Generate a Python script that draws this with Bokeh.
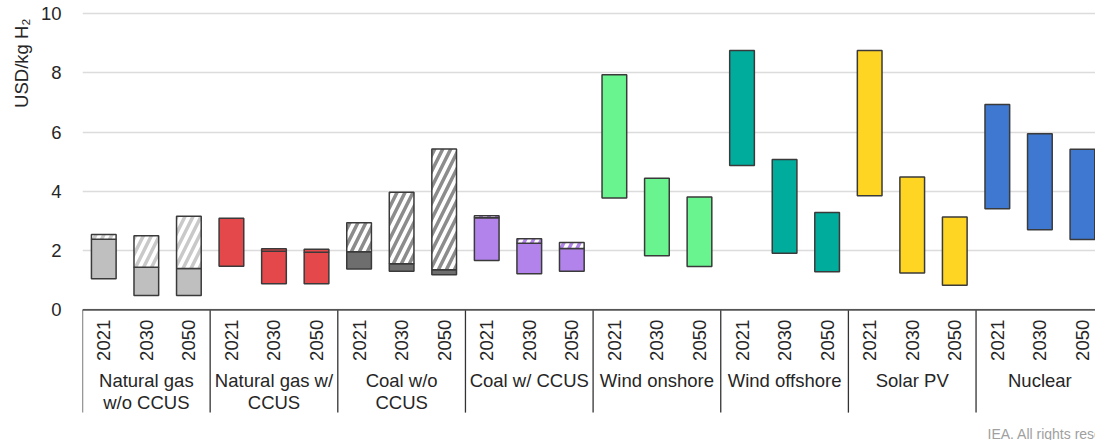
import math
from bokeh.plotting import figure
from bokeh.models import ColumnDataSource, Range1d, FixedTicker, Span, Title
from bokeh.embed import file_html
from bokeh.resources import INLINE
from bokeh.core.properties import value

# ---------------- data ----------------
groups = ["Natural gas\nw/o CCUS", "Natural gas w/\nCCUS", "Coal w/o\nCCUS", "Coal w/ CCUS",
          "Wind onshore", "Wind offshore", "Solar PV", "Nuclear"]
years = ["2021", "2030", "2050"]

# USD/kg H2 : bottom of range, top of base (solid) part, top incl. CO2 part
cost_low = [1.05, 0.48, 0.48, 1.47, 0.88, 0.88, 1.38, 1.30, 1.18, 1.66, 1.22, 1.30,
            3.77, 1.82, 1.46, 4.87, 1.91, 1.28, 3.85, 1.24, 0.83, 3.41, 2.70, 2.37]
cost_base_top = [2.38, 1.44, 1.39, 3.09, 1.98, 1.94, 1.96, 1.55, 1.35, 3.11, 2.25, 2.07,
                 7.93, 4.44, 3.81, 8.75, 5.07, 3.28, 8.75, 4.48, 3.13, 6.93, 5.94, 5.42]
cost_total_top = [2.54, 2.50, 3.16, 3.09, 2.06, 2.04, 2.94, 3.97, 5.43, 3.17, 2.40, 2.27,
                  7.93, 4.44, 3.81, 8.75, 5.07, 3.28, 8.75, 4.48, 3.13, 6.93, 5.94, 5.42]

y_ticks = [0, 2, 4, 6, 8, 10]
y_title = "USD/kg H\u2082"
source_note = "IEA. All rights reserved."

# ---------------- styles ----------------
base_colors = ["#BFBFBF", "#E5484A", "#6E6E6E", "#B283EB", "#69F48F", "#00AD9C", "#FFD524", "#3E78D1"]
top_fill = ["#FFFFFF", "#E5484A", "#FFFFFF", "#FFFFFF", "#FFFFFF", "#FFFFFF", "#FFFFFF", "#FFFFFF"]
top_hatch = ["/", " ", "/", "/", " ", " ", " ", " "]
top_hatch_color = ["#C9C9C9", "#E5484A", "#8C8C8C", "#B283EB", "#000000", "#000000", "#000000", "#000000"]

FONT = "Liberation Sans"
TXT = "#262626"

n_years = len(years)
xs, g_idx, year_lbl = [], [], []
for g in range(len(groups)):
    for k, yr in enumerate(years):
        xs.append(g * n_years + k)
        g_idx.append(g)
        year_lbl.append(yr)

base_src = ColumnDataSource(dict(
    x=xs, bottom=cost_low, top=cost_base_top,
    color=[base_colors[g] for g in g_idx]))

tx, tb, tt, tf, th, thc = [], [], [], [], [], []
for i, g in enumerate(g_idx):
    if cost_total_top[i] > cost_base_top[i]:
        tx.append(xs[i]); tb.append(cost_base_top[i]); tt.append(cost_total_top[i])
        tf.append(top_fill[g]); th.append(top_hatch[g]); thc.append(top_hatch_color[g])
top_src = ColumnDataSource(dict(x=tx, bottom=tb, top=tt, fill=tf, hatch=th, hcolor=thc))

# ---------------- figure ----------------
W, H = 1095, 440
left_border = 82
px_per_unit = 29.63
zero_px = 309.3
y_end = zero_px / px_per_unit
y_start = y_end - H / px_per_unit
slot = 42.55
x_start = -0.5
x_end = x_start + (W - left_border) / slot

p = figure(width=W, height=H, output_backend="svg", toolbar_location=None,
           x_range=Range1d(x_start, x_end), y_range=Range1d(y_start, y_end),
           min_border_left=left_border, min_border_right=0, min_border_top=0,
           min_border_bottom=0, x_axis_location=None)
p.outline_line_color = None
p.background_fill_color = "white"
p.border_fill_color = "white"

p.yaxis.ticker = FixedTicker(ticks=y_ticks)
p.yaxis.axis_line_color = None
p.yaxis.major_tick_line_color = None
p.yaxis.minor_tick_line_color = None
p.yaxis.major_label_text_font = FONT
p.yaxis.major_label_text_font_size = "18.5px"
p.yaxis.major_label_text_color = TXT
p.yaxis.major_label_standoff = 15
p.xgrid.visible = False
p.ygrid.grid_line_color = "#DCDCDC"
p.ygrid.grid_line_width = 1.3

p.add_layout(Title(text=y_title, align="right", offset=18, vertical_align="bottom",
                   standoff=11, text_font=FONT, text_font_size="18.5px",
                   text_font_style="normal", text_color=TXT), "left")

bar_w = 0.58
p.vbar(x="x", bottom="bottom", top="top", width=bar_w, source=base_src,
       fill_color="color", line_color="#3A3A3A", line_width=1.5)
p.vbar(x="x", bottom="bottom", top="top", width=bar_w, source=top_src,
       fill_color="fill", hatch_pattern="hatch", hatch_color="hcolor",
       hatch_scale=16, hatch_weight=3.5,
       line_color="#3A3A3A", line_width=1.5)

# category axis drawn below zero
p.add_layout(Span(location=0, dimension="width", line_color="#555555", line_width=1.8))
sep_x = [g * n_years - 0.5 for g in range(len(groups))]
sep_bottom = -3.47
p.segment(x0=sep_x, y0=[0] * len(sep_x), x1=sep_x, y1=[sep_bottom] * len(sep_x),
          line_color="#333333", line_width=1.3)

p.text(x=xs, y=[-1.03] * len(xs), text=year_lbl, angle=math.pi / 2,
       text_align="center", text_baseline="middle",
       text_font=value(FONT), text_font_size="18.5px", text_color=TXT)

l_x, l_y, l_t = [], [], []
for g, name in enumerate(groups):
    for j, line in enumerate(name.split("\n")):
        l_x.append(g * n_years + 1)
        l_y.append(-2.37 - 0.76 * j)
        l_t.append(line)
p.text(x=l_x, y=l_y, text=l_t, text_align="center", text_baseline="alphabetic",
       text_font=value(FONT), text_font_size="18.5px", text_color=TXT)

p.text(x=[x_start + (987 - left_border) / slot], y=[(zero_px - 433) / px_per_unit],
       text=[source_note], text_align="left", text_baseline="alphabetic",
       text_font=value(FONT), text_font_size="14px", text_color="#A0A0A0")

open("out.html", "w").write(file_html(p, INLINE))
